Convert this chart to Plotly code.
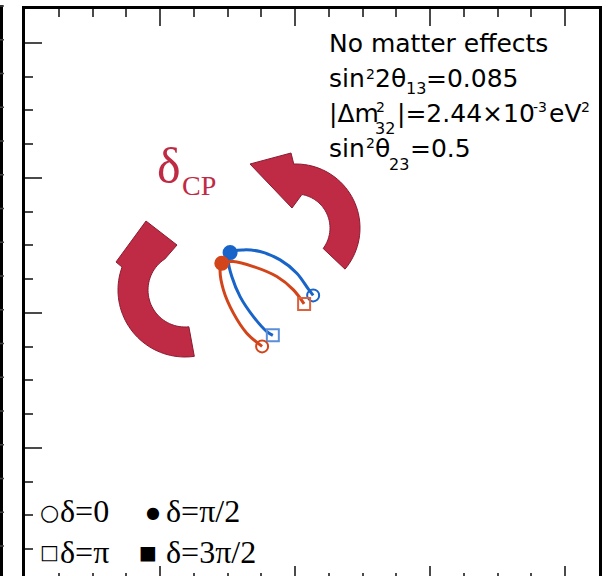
import math
import plotly.graph_objects as go

# ---------------- data ----------------
# blue curve: delta = 0 (right end) -> pi/2 (apex) -> pi (left end)
blue_x = [42.67, 41.97, 40.25, 37.78, 34.81, 32.34, 30.37, 30.12, 30.62, 31.85, 33.82, 35.81, 36.70]
blue_y = [42.59, 43.51, 45.88, 47.85, 49.08, 49.33, 48.93, 47.60, 45.38, 42.41, 39.45, 37.23, 36.67]
# red curve: delta = 0 (left end) -> pi/2 (apex) -> pi (right end)
red_x = [35.11, 32.84, 30.86, 29.38, 28.89, 29.14, 30.86, 33.82, 37.29, 39.75, 41.33]
red_y = [35.04, 36.99, 39.96, 43.41, 46.37, 47.36, 47.60, 46.86, 45.38, 43.41, 41.33]

# special delta points  [delta=0, delta=pi/2, delta=pi]
blue_pts_x = [42.67, 30.37, 36.70]
blue_pts_y = [42.59, 48.93, 36.67]
red_pts_x = [35.11, 29.14, 41.33]
red_pts_y = [35.04, 47.36, 41.33]

x_range = [0, 85]
y_range = [1.0366, 85]
major_ticks = [20, 40, 60, 80]

info_lines = ["No matter effects", "sin", "2", "2θ", "13", "=0.085",
              "|Δm", "2", "32", "|=2.44×10", "-3", "eV", "2",
              "sin", "2", "θ", "23", "=0.5"]
legend_labels = ["δ=0", "δ=π/2", "δ=π", "δ=3π/2"]
legend_glyphs = ["○", "●", "□", "■"]

# ---------------- geometry helpers ----------------
W, H = 608, 576
L, R, T, B = 25, 599, 9, 576          # plot area in pixels


def px2d(px, py):
    return ((px - L) / (R - L) * 85.0, (583 - py) / (R - L) * 85.0)


def pol(cx, cy, r, a):
    a = math.radians(a)
    return (cx + r * math.cos(a), cy - r * math.sin(a))


def arrow_path(cx, cy, r_in, r_out, a_tail_out, a_head_out, head_pts, a_head_in, a_tail_in, n=40):
    pts = []
    for i in range(n + 1):
        pts.append(pol(cx, cy, r_out, a_tail_out + (a_head_out - a_tail_out) * i / n))
    pts.extend(head_pts)
    for i in range(n + 1):
        pts.append(pol(cx, cy, r_in, a_head_in + (a_tail_in - a_head_in) * i / n))
    d = []
    for i, (px, py) in enumerate(pts):
        x, y = px2d(px, py)
        d.append(("M" if i == 0 else "L") + f"{x:.3f},{y:.3f}")
    return " ".join(d) + " Z"


fig = go.Figure()

blue = "#1864c8"
red = "#d2451a"

fig.add_trace(go.Scatter(x=blue_x, y=blue_y, mode="lines", line=dict(color=blue, width=3, shape="spline"),
                         showlegend=False, hoverinfo="skip"))
fig.add_trace(go.Scatter(x=red_x, y=red_y, mode="lines", line=dict(color=red, width=3, shape="spline"),
                         showlegend=False, hoverinfo="skip"))
fig.add_trace(go.Scatter(x=blue_pts_x, y=blue_pts_y, mode="markers", opacity=1,
                         marker=dict(symbol=["circle-open", "circle", "square-open"], size=[12, 13, 12], opacity=1,
                                     color=[blue, blue, "#5a8fd8"], line=dict(width=2, color=[blue, blue, "#5a8fd8"])),
                         showlegend=False, hoverinfo="skip"))
fig.add_trace(go.Scatter(x=red_pts_x, y=red_pts_y, mode="markers", opacity=1,
                         marker=dict(symbol=["circle-open", "circle", "square-open"], size=[12, 13, 12], opacity=1,
                                     color=[red, red, "#e0603a"], line=dict(width=2, color=[red, red, "#e0603a"])),
                         showlegend=False, hoverinfo="skip"))
fig.add_trace(go.Scatter(x=[], y=[], xaxis="x2", yaxis="y", showlegend=False, hoverinfo="skip"))

crimson = "#bf2a44"
right_head = [(291, 153), (250, 164), (292, 208)]
left_head = [(116, 262), (146, 221), (177, 245)]
shapes = [
    dict(type="path", path=arrow_path(296, 228, 34, 64, -40, 92, right_head, 80, -37),
         xref="x", yref="y", fillcolor=crimson, line=dict(color="#8a1c30", width=1), layer="above"),
    dict(type="path", path=arrow_path(185, 290, 37, 67, 278, 160, left_head, 123, 276),
         xref="x", yref="y", fillcolor=crimson, line=dict(color="#8a1c30", width=1), layer="above"),
    # edge of the neighbouring panel
    dict(type="line", xref="paper", yref="paper", x0=(1.5 - L) / (R - L), x1=(1.5 - L) / (R - L),
         y0=(B - 5) / (B - T), y1=-0.05, line=dict(color="black", width=3)),
]
for k in range(0, 18):
    py = 9 + 33.75 * k - 3
    shapes.append(dict(type="line", xref="paper", yref="paper", x0=(0 - L) / (R - L), x1=(4 - L) / (R - L),
                       y0=(B - py) / (B - T), y1=(B - py) / (B - T), line=dict(color="#444", width=1.5)))


def ann(text, px, base, size, family="DejaVu Sans", color="black", k=0.346):
    cy = base - k * size
    return dict(text=text, x=(px - L) / (R - L), y=(B - cy) / (B - T), xref="paper", yref="paper",
                xanchor="left", yanchor="middle", showarrow=False, borderpad=0, borderwidth=0,
                font=dict(size=size, family=family, color=color))


def ann_c(text, px, cy, size, family="DejaVu Sans", color="black"):
    return dict(text=text, x=(px - L) / (R - L), y=(B - cy) / (B - T), xref="paper", yref="paper",
                xanchor="center", yanchor="middle", showarrow=False, borderpad=0, borderwidth=0,
                font=dict(size=size, family=family, color=color))


S = 25
sup = 14
sub = 16
serif = "Liberation Serif"
annos = [
    ann(info_lines[0], 329, 52, S),
    ann(info_lines[1], 329, 87, S), ann(info_lines[2], 366, 79, sup), ann(info_lines[3], 375, 87, S),
    ann(info_lines[4], 406, 94, sub), ann(info_lines[5], 426, 87, S),
    ann(info_lines[6], 329, 122, S), ann(info_lines[7], 376, 112, sup), ann(info_lines[8], 375, 134, sub),
    ann(info_lines[9], 397, 122, S), ann(info_lines[10], 533, 112, sup), ann(info_lines[11], 549, 122, S),
    ann(info_lines[12], 581, 112, sup),
    ann(info_lines[13], 329, 157, S), ann(info_lines[14], 366, 148, sup), ann(info_lines[15], 375, 157, S),
    ann(info_lines[16], 389, 170, sub), ann(info_lines[17], 410, 157, S),
    # delta CP
    ann("δ", 157, 183, 50, family=serif, color=crimson, k=0.3375),
    ann("CP", 182, 195, 28, family=serif, color=crimson, k=0.3375),
    # legend
    ann_c(legend_glyphs[0], 49, 512, 22), ann(legend_labels[0], 60, 522, 32, family=serif, k=0.3375),
    ann_c(legend_glyphs[1], 153, 512, 16), ann(legend_labels[1], 166, 522, 32, family=serif, k=0.3375),
    ann_c(legend_glyphs[2], 49, 552, 20), ann(legend_labels[2], 60, 563, 32, family=serif, k=0.3375),
    ann_c(legend_glyphs[3], 148, 552, 19), ann(legend_labels[3], 166, 563, 32, family=serif, k=0.3375),
]

axis_common = dict(showgrid=False, zeroline=False, showticklabels=False, fixedrange=True)
tick_col = "#4a4a4a"
fig.update_layout(
    width=W, height=H, margin=dict(l=L, r=W - R, t=T, b=H - B),
    paper_bgcolor="white", plot_bgcolor="white",
    xaxis=dict(range=x_range, side="top", showline=True, linecolor="black", linewidth=2.5,
               ticks="inside", ticklen=17, tickwidth=1.5, tickcolor=tick_col, tickvals=major_ticks,
               minor=dict(ticks="inside", ticklen=8, tickwidth=1.5, tickcolor=tick_col, dtick=5, tick0=0),
               **axis_common),
    xaxis2=dict(range=x_range, overlaying="x", anchor="y", side="bottom", showline=False,
                ticks="inside", ticklen=10, tickwidth=1.5, tickcolor=tick_col, tickvals=major_ticks,
                minor=dict(ticks="inside", ticklen=3, tickwidth=1.5, tickcolor=tick_col, dtick=5, tick0=0),
                **axis_common),
    yaxis=dict(range=y_range, showline=True, mirror=True, linecolor="black", linewidth=2.5,
               ticks="inside", ticklen=17, tickwidth=1.5, tickcolor=tick_col, tickvals=major_ticks,
               minor=dict(ticks="inside", ticklen=8, tickwidth=1.5, tickcolor=tick_col, dtick=5, tick0=0),
               **axis_common),
    shapes=shapes, annotations=annos, showlegend=False,
)

fig.write_html("out.html", config={"displayModeBar": False},
               post_script="document.body.style.margin='0px';")
